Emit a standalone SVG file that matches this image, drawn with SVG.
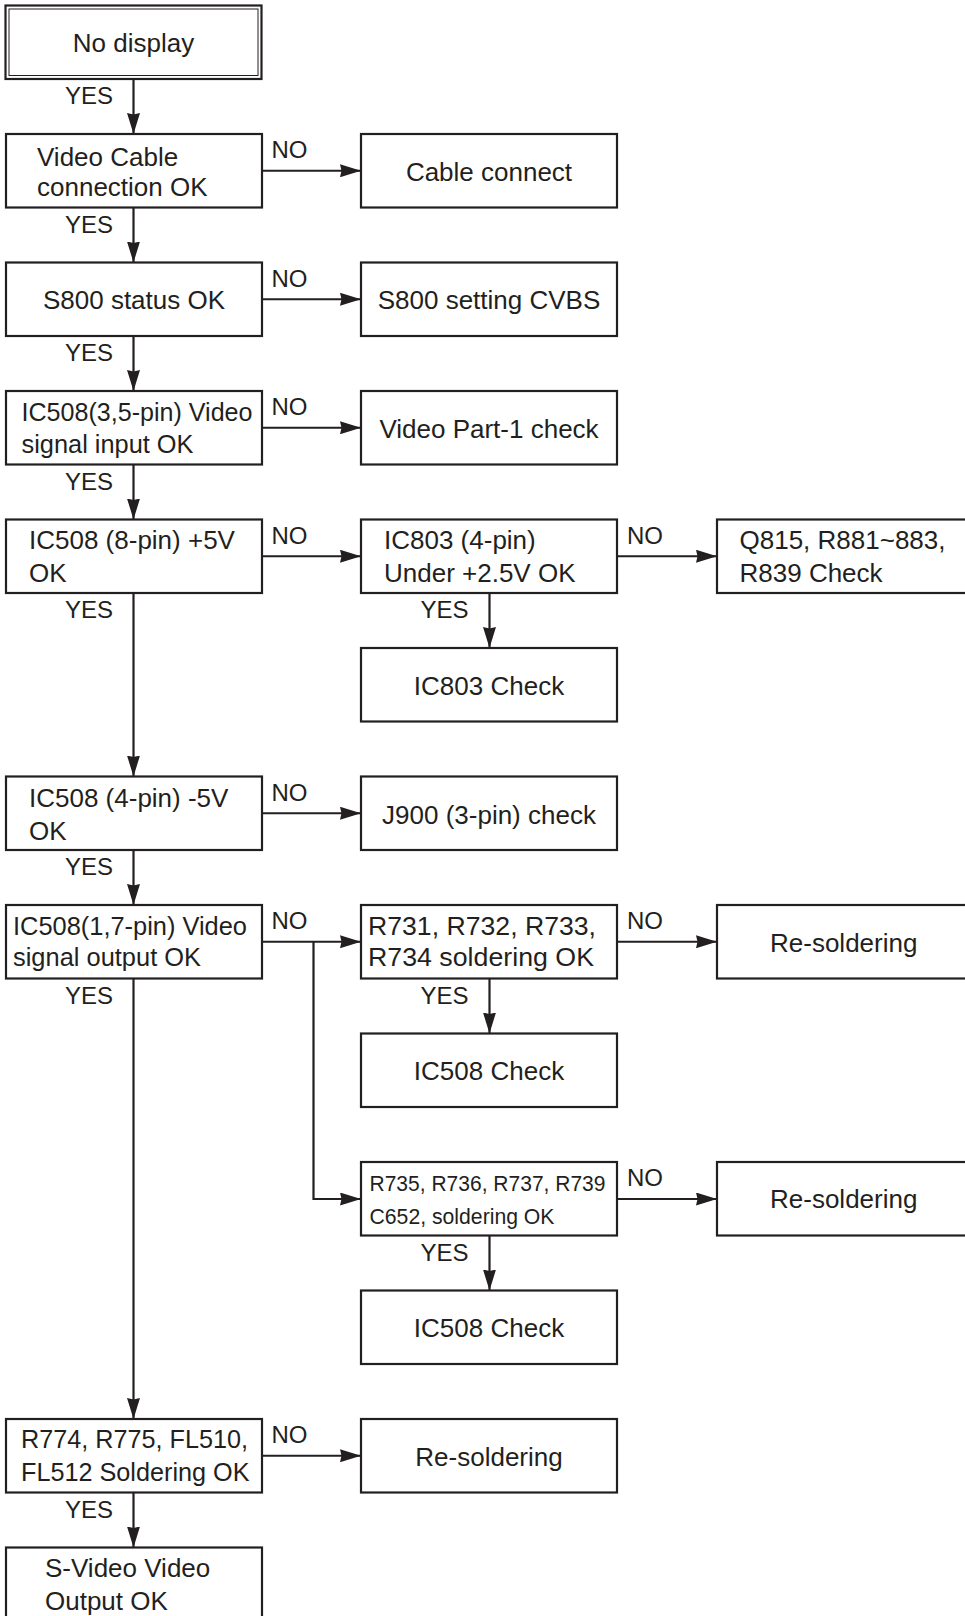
<svg xmlns="http://www.w3.org/2000/svg" width="965" height="1616" viewBox="0 0 965 1616">
<style>
.box{fill:#fff;stroke:#231f20;stroke-width:2.2}
.t{font-family:"Liberation Sans",Arial,sans-serif;font-size:26px;fill:#231f20}
.c{text-anchor:middle}
.sm{font-size:22.5px}
.lbl{font-family:"Liberation Sans",Arial,sans-serif;font-size:24px;fill:#231f20}
.yes{text-anchor:end}
.con{fill:none;stroke:#231f20;stroke-width:2.2}
.arr{marker-end:url(#ah)}
</style>
<defs>
<marker id="ah" markerUnits="userSpaceOnUse" markerWidth="21" markerHeight="13" refX="21" refY="6.5" orient="auto">
<path d="M0,0 L21,6.5 L0,13 L1.5,6.5 Z" fill="#231f20"/>
</marker>
</defs>
<rect width="965" height="1616" fill="#fff"/>

<g id="connectors">
<path class="con arr" d="M133.5,79 V134"/>
<path class="con arr" d="M133.5,207.5 V262.5"/>
<path class="con arr" d="M133.5,336 V391"/>
<path class="con arr" d="M133.5,464.5 V519.5"/>
<path class="con arr" d="M133.5,593 V776.5"/>
<path class="con arr" d="M133.5,850 V905"/>
<path class="con arr" d="M133.5,978.5 V1419"/>
<path class="con arr" d="M133.5,1492.5 V1547.5"/>
<path class="con arr" d="M262,170.75 H361"/>
<path class="con arr" d="M262,299.25 H361"/>
<path class="con arr" d="M262,427.75 H361"/>
<path class="con arr" d="M262,556.25 H361"/>
<path class="con arr" d="M262,813.25 H361"/>
<path class="con arr" d="M262,941.75 H361"/>
<path class="con arr" d="M262,1455.75 H361"/>
<path class="con arr" d="M617,556.25 H717"/>
<path class="con arr" d="M489.5,593 V648"/>
<path class="con arr" d="M617,941.75 H717"/>
<path class="con arr" d="M489.5,978.5 V1033.5"/>
<path class="con arr" d="M313.5,941.75 V1199 H361"/>
<path class="con arr" d="M617,1199 H717"/>
<path class="con arr" d="M489.5,1235.5 V1290.5"/>
</g>

<g id="labels">
<text class="lbl yes" x="113" y="104">YES</text>
<text class="lbl yes" x="113" y="232.5">YES</text>
<text class="lbl yes" x="113" y="361">YES</text>
<text class="lbl yes" x="113" y="489.5">YES</text>
<text class="lbl yes" x="113" y="618">YES</text>
<text class="lbl yes" x="113" y="875">YES</text>
<text class="lbl yes" x="113" y="1003.5">YES</text>
<text class="lbl yes" x="113" y="1517.5">YES</text>
<text class="lbl yes" x="468.5" y="618">YES</text>
<text class="lbl yes" x="468.5" y="1003.5">YES</text>
<text class="lbl yes" x="468.5" y="1260.5">YES</text>
<text class="lbl" x="271.5" y="158">NO</text>
<text class="lbl" x="271.5" y="286.5">NO</text>
<text class="lbl" x="271.5" y="415">NO</text>
<text class="lbl" x="271.5" y="543.5">NO</text>
<text class="lbl" x="271.5" y="800.5">NO</text>
<text class="lbl" x="271.5" y="929">NO</text>
<text class="lbl" x="271.5" y="1443">NO</text>
<text class="lbl" x="627" y="543.5">NO</text>
<text class="lbl" x="627" y="929">NO</text>
<text class="lbl" x="627" y="1186">NO</text>
</g>

<g id="start">
<rect class="box" x="5.5" y="5.5" width="256" height="73.5"/>
<rect x="9" y="9" width="249" height="66.5" fill="none" stroke="#231f20" stroke-width="1"/>
<text class="t c" x="133.5" y="52">No display</text>
</g>
<g id="video-cable">
<rect class="box" x="6" y="134" width="256" height="73.5"/>
<text class="t" x="37" y="165.5">Video Cable</text>
<text class="t" x="37" y="196">connection OK</text>
</g>
<g id="cable-connect">
<rect class="box" x="361" y="134" width="256" height="73.5"/>
<text class="t c" x="489" y="181">Cable connect</text>
</g>
<g id="s800-status">
<rect class="box" x="6" y="262.5" width="256" height="73.5"/>
<text class="t c" x="134" y="309">S800 status OK</text>
</g>
<g id="s800-setting">
<rect class="box" x="361" y="262.5" width="256" height="73.5"/>
<text class="t c" x="489" y="309">S800 setting CVBS</text>
</g>
<g id="ic508-input">
<rect class="box" x="6" y="391" width="256" height="73.5"/>
<text class="t" x="21.5" y="421" textLength="231" lengthAdjust="spacingAndGlyphs">IC508(3,5-pin) Video</text>
<text class="t" x="21.5" y="453" textLength="172" lengthAdjust="spacingAndGlyphs">signal input OK</text>
</g>
<g id="video-part1">
<rect class="box" x="361" y="391" width="256" height="73.5"/>
<text class="t c" x="489" y="437.5">Video Part-1 check</text>
</g>
<g id="ic508-5v">
<rect class="box" x="6" y="519.5" width="256" height="73.5"/>
<text class="t" x="29" y="548.5">IC508 (8-pin) +5V</text>
<text class="t" x="29" y="581.5">OK</text>
</g>
<g id="ic803">
<rect class="box" x="361" y="519.5" width="256" height="73.5"/>
<text class="t" x="384" y="548.5">IC803 (4-pin)</text>
<text class="t" x="384" y="581.5">Under +2.5V OK</text>
</g>
<g id="q815">
<rect class="box" x="717" y="519.5" width="262" height="73.5"/>
<text class="t" x="739.5" y="548.5">Q815, R881~883,</text>
<text class="t" x="739.5" y="581.5">R839 Check</text>
</g>
<g id="ic803-check">
<rect class="box" x="361" y="648" width="256" height="73.5"/>
<text class="t c" x="489" y="694.5">IC803 Check</text>
</g>
<g id="ic508-m5v">
<rect class="box" x="6" y="776.5" width="256" height="73.5"/>
<text class="t" x="29" y="806.5">IC508 (4-pin) -5V</text>
<text class="t" x="29" y="839.5">OK</text>
</g>
<g id="j900">
<rect class="box" x="361" y="776.5" width="256" height="73.5"/>
<text class="t c" x="489" y="823.5">J900 (3-pin) check</text>
</g>
<g id="ic508-output">
<rect class="box" x="6" y="905" width="256" height="73.5"/>
<text class="t" x="13" y="934.5" textLength="234" lengthAdjust="spacingAndGlyphs">IC508(1,7-pin) Video</text>
<text class="t" x="13" y="966" textLength="188" lengthAdjust="spacingAndGlyphs">signal output OK</text>
</g>
<g id="r731">
<rect class="box" x="361" y="905" width="256" height="73.5"/>
<text class="t" x="368" y="934.5" textLength="228" lengthAdjust="spacingAndGlyphs">R731, R732, R733,</text>
<text class="t" x="368" y="966" textLength="226" lengthAdjust="spacingAndGlyphs">R734 soldering OK</text>
</g>
<g id="resolder-1">
<rect class="box" x="717" y="905" width="262" height="73.5"/>
<text class="t" x="770" y="951.5">Re-soldering</text>
</g>
<g id="ic508-check-1">
<rect class="box" x="361" y="1033.5" width="256" height="73.5"/>
<text class="t c" x="489" y="1080">IC508 Check</text>
</g>
<g id="r735">
<rect class="box" x="361" y="1162" width="256" height="73.5"/>
<text class="t sm" x="369.5" y="1191" textLength="236" lengthAdjust="spacingAndGlyphs">R735, R736, R737, R739</text>
<text class="t sm" x="369.5" y="1223.5" textLength="185" lengthAdjust="spacingAndGlyphs">C652, soldering OK</text>
</g>
<g id="resolder-2">
<rect class="box" x="717" y="1162" width="262" height="73.5"/>
<text class="t" x="770" y="1208">Re-soldering</text>
</g>
<g id="ic508-check-2">
<rect class="box" x="361" y="1290.5" width="256" height="73.5"/>
<text class="t c" x="489" y="1337">IC508 Check</text>
</g>
<g id="r774">
<rect class="box" x="6" y="1419" width="256" height="73.5"/>
<text class="t" x="21" y="1448" textLength="227" lengthAdjust="spacingAndGlyphs">R774, R775, FL510,</text>
<text class="t" x="21" y="1481" textLength="228.5" lengthAdjust="spacingAndGlyphs">FL512 Soldering OK</text>
</g>
<g id="resolder-3">
<rect class="box" x="361" y="1419" width="256" height="73.5"/>
<text class="t c" x="489" y="1466">Re-soldering</text>
</g>
<g id="s-video-ok">
<rect class="box" x="6" y="1547.5" width="256" height="90"/>
<text class="t" x="45" y="1577">S-Video Video</text>
<text class="t" x="45" y="1610">Output OK</text>
</g>
</svg>
